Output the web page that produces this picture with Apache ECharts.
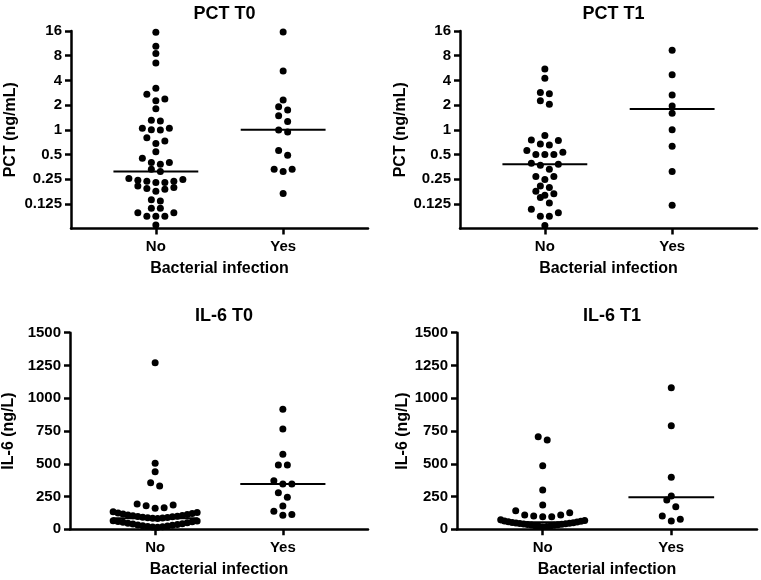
<!DOCTYPE html>
<html><head><meta charset="utf-8">
<script src="https://cdn.jsdelivr.net/npm/echarts@6/dist/echarts.min.js"></script>
<style>html,body{margin:0;padding:0;background:#fff}#c{width:761px;height:580px}</style>
</head><body><div id="c"></div>
<script>
// ---------------- data ----------------
const categories = ['No', 'Yes'];
const panelTitles = ['PCT T0', 'PCT T1', 'IL-6 T0', 'IL-6 T1'];
const pctAxisName = 'PCT (ng/mL)';
const il6AxisName = 'IL-6 (ng/L)';
const xAxisName = 'Bacterial infection';
const pctTicks = [0.125, 0.25, 0.5, 1, 2, 4, 8, 16];
const il6Ticks = [0, 250, 500, 750, 1000, 1250, 1500];

const pctT0No = [0.069, 0.088, 0.088, 0.088, 0.097, 0.097, 0.11, 0.11, 0.135, 0.14,
  0.178, 0.188, 0.192, 0.197, 0.206, 0.227, 0.227, 0.235, 0.235, 0.243, 0.247, 0.254,
  0.31, 0.33, 0.38, 0.40, 0.40, 0.45, 0.54, 0.68, 0.73, 0.80, 0.99, 1.0, 1.04, 1.04,
  1.28, 1.31, 1.8, 2.25, 2.37, 2.7, 3.2, 6.5, 8.5, 10.4, 15.4];
const pctT0Yes = [0.167, 0.31, 0.33, 0.33, 0.49, 0.56, 0.94, 0.99, 1.26, 1.48, 1.74, 1.91, 2.3, 5.2, 15.6];
const pctT1No = [0.068, 0.088, 0.088, 0.097, 0.107, 0.128, 0.149, 0.159, 0.166, 0.178, 0.198, 0.206,
  0.247, 0.27, 0.27, 0.33, 0.37, 0.38, 0.39, 0.5, 0.5, 0.5, 0.53, 0.56, 0.65, 0.67, 0.74, 0.75, 0.85,
  2.05, 2.25, 2.75, 2.85, 4.25, 5.5];
const pctT1Yes = [0.12, 0.31, 0.63, 1.0, 1.59, 1.95, 2.66, 4.67, 9.3];
const il6T0No = [15, 18, 20, 22, 25, 28, 30, 33, 36, 40, 43, 46, 50, 54, 57, 60, 63, 66,
  82, 84, 86, 88, 90, 92, 95, 98, 100, 103, 106, 110, 113, 117, 121, 125, 129, 133,
  160, 165, 180, 185, 193, 330, 356, 440, 504, 1271];
const il6T0Yes = [107, 112, 137, 178, 244, 279, 346, 346, 371, 491, 491, 572, 765, 916];
const il6T1No = [20, 22, 24, 26, 28, 30, 32, 34, 36, 38, 40, 42, 44, 46, 48, 50, 52, 55, 58, 61, 64, 68, 72,
  96, 96, 101, 109, 109, 127, 142, 185, 300, 485, 681, 707];
const il6T1Yes = [63, 76, 101, 172, 224, 254, 397, 790, 1080];

const medPctT0 = [0.31, 1.0];
const medPctT1 = [0.38, 1.79];
const medIl6T0 = [84, 346];
const medIl6T1 = [53, 244];

// ---------------- layout ----------------
const panels = [
  { title: panelTitles[0], yName: pctAxisName, log: true, groups: [pctT0No, pctT0Yes], med: medPctT0,
    grid: { left: 71, top: 31, width: 297, height: 197.5 }, nameGap: 52 },
  { title: panelTitles[1], yName: pctAxisName, log: true, groups: [pctT1No, pctT1Yes], med: medPctT1,
    grid: { left: 460, top: 31, width: 297, height: 197.5 }, nameGap: 51 },
  { title: panelTitles[2], yName: il6AxisName, log: false, groups: [il6T0No, il6T0Yes], med: medIl6T0,
    grid: { left: 70, top: 332.7, width: 298, height: 196.6 }, nameGap: 53 },
  { title: panelTitles[3], yName: il6AxisName, log: false, groups: [il6T1No, il6T1Yes], med: medIl6T1,
    grid: { left: 457, top: 332.7, width: 300, height: 196.6 }, nameGap: 46 }
];
const catPos = [2, 5];
const FONT = '"Liberation Sans", Arial, sans-serif';
const BLACK = '#000';
const TXT = '#000';

const option = {
  animation: false,
  backgroundColor: '#fff',
  textStyle: { fontFamily: FONT },
  title: panels.map(p => ({
    text: p.title, left: p.grid.left + p.grid.width / 2, top: p.grid.top - 31, textAlign: 'center',
    textStyle: { fontFamily: FONT, fontWeight: 'bold', fontSize: 18, color: TXT }
  })),
  grid: panels.map(p => Object.assign({}, p.grid)),
  xAxis: panels.map((p, i) => ({
    type: 'value', gridIndex: i, min: 0, max: 7,
    axisLine: { show: true, onZero: false, lineStyle: { color: BLACK, width: 2.5 } },
    axisTick: { show: true, customValues: catPos, length: 6, lineStyle: { color: BLACK, width: 2.5 } },
    axisLabel: { customValues: catPos, margin: 11, fontSize: 15, fontWeight: 'bold', color: TXT, fontFamily: FONT,
      formatter: v => categories[catPos.indexOf(Math.round(v))] || '' },
    splitLine: { show: false },
    name: xAxisName, nameLocation: 'middle', nameGap: 32,
    nameTextStyle: { fontSize: 16, fontWeight: 'bold', color: TXT, fontFamily: FONT }
  })),
  yAxis: panels.map((p, i) => {
    const base = {
      gridIndex: i,
      axisLine: { show: true, lineStyle: { color: BLACK, width: 2.5 } },
      axisTick: { show: true, length: 6, lineStyle: { color: BLACK, width: 2.5 } },
      axisLabel: { margin: 9, fontSize: 15, fontWeight: 'bold', color: TXT, fontFamily: FONT },
      splitLine: { show: false },
      name: p.yName, nameLocation: 'middle', nameGap: p.nameGap,
      nameTextStyle: { fontSize: 16, fontWeight: 'bold', color: TXT, fontFamily: FONT }
    };
    if (p.log) {
      base.type = 'log'; base.logBase = 2; base.min = 0.0625; base.max = 16;
      base.axisTick.customValues = pctTicks;
      base.axisLabel.customValues = pctTicks;
      base.axisLabel.formatter = v => String(+(+v).toPrecision(6));
    } else {
      base.type = 'value'; base.min = il6Ticks[0]; base.max = il6Ticks[il6Ticks.length - 1];
      base.interval = il6Ticks[1] - il6Ticks[0];
      base.axisLabel.formatter = v => String(v);
    }
    return base;
  }),
  series: []
};

function buildSeries(offsets) {
  const s = [];
  panels.forEach((p, pi) => {
    p.groups.forEach((vals, gi) => {
      s.push({
        type: 'scatter', xAxisIndex: pi, yAxisIndex: pi, symbol: 'circle', symbolSize: 7,
        itemStyle: { color: BLACK, opacity: 1 }, silent: true,
        data: vals.map((v, k) => [catPos[gi] + (offsets ? offsets[pi][gi][k] : 0), v])
      });
      s.push({
        type: 'line', xAxisIndex: pi, yAxisIndex: pi, symbol: 'none', silent: true,
        lineStyle: { color: BLACK, width: 2 },
        data: [[catPos[gi] - 1, p.med[gi]], [catPos[gi] + 1, p.med[gi]]]
      });
    });
  });
  return s;
}

// beeswarm in pixel space: rows of height h, ascending values placed centre-out
function swarm(vals, yPix, pxPerUnit, h, sMax, maxW) {
  const idx = vals.map((v, i) => i).sort((a, b) => vals[a] - vals[b]);
  const off = new Array(vals.length).fill(0);
  let row = [], startY = null;
  const flush = () => {
    const n = row.length;
    if (!n) return;
    const s = n > 1 ? Math.min(sMax, maxW / (n - 1)) : 0;
    row.forEach((id, k) => {
      let m;
      if (n % 2 === 1) { m = k === 0 ? 0 : (k % 2 === 1 ? 1 : -1) * Math.ceil(k / 2); }
      else { m = (k % 2 === 0 ? 1 : -1) * (Math.floor(k / 2) + 0.5); }
      off[id] = m * s / pxPerUnit;
    });
    row = [];
  };
  idx.forEach(i => {
    const y = yPix[i];
    if (startY === null || startY - y >= h) { flush(); startY = y; }
    row.push(i);
  });
  flush();
  return off;
}

const chart = echarts.init(document.getElementById('c'), null, { renderer: 'canvas' });
option.series = buildSeries(null);
chart.setOption(option);

const offsets = panels.map((p, pi) => {
  const x0 = chart.convertToPixel({ xAxisIndex: pi }, 2);
  const x1 = chart.convertToPixel({ xAxisIndex: pi }, 3);
  const ppu = Math.abs(x1 - x0);
  return p.groups.map(vals => {
    const yPix = vals.map(v => chart.convertToPixel({ yAxisIndex: pi }, v));
    return swarm(vals, yPix, ppu, 7, 9, 84);
  });
});
chart.setOption({ series: buildSeries(offsets) });
</script></body></html>
